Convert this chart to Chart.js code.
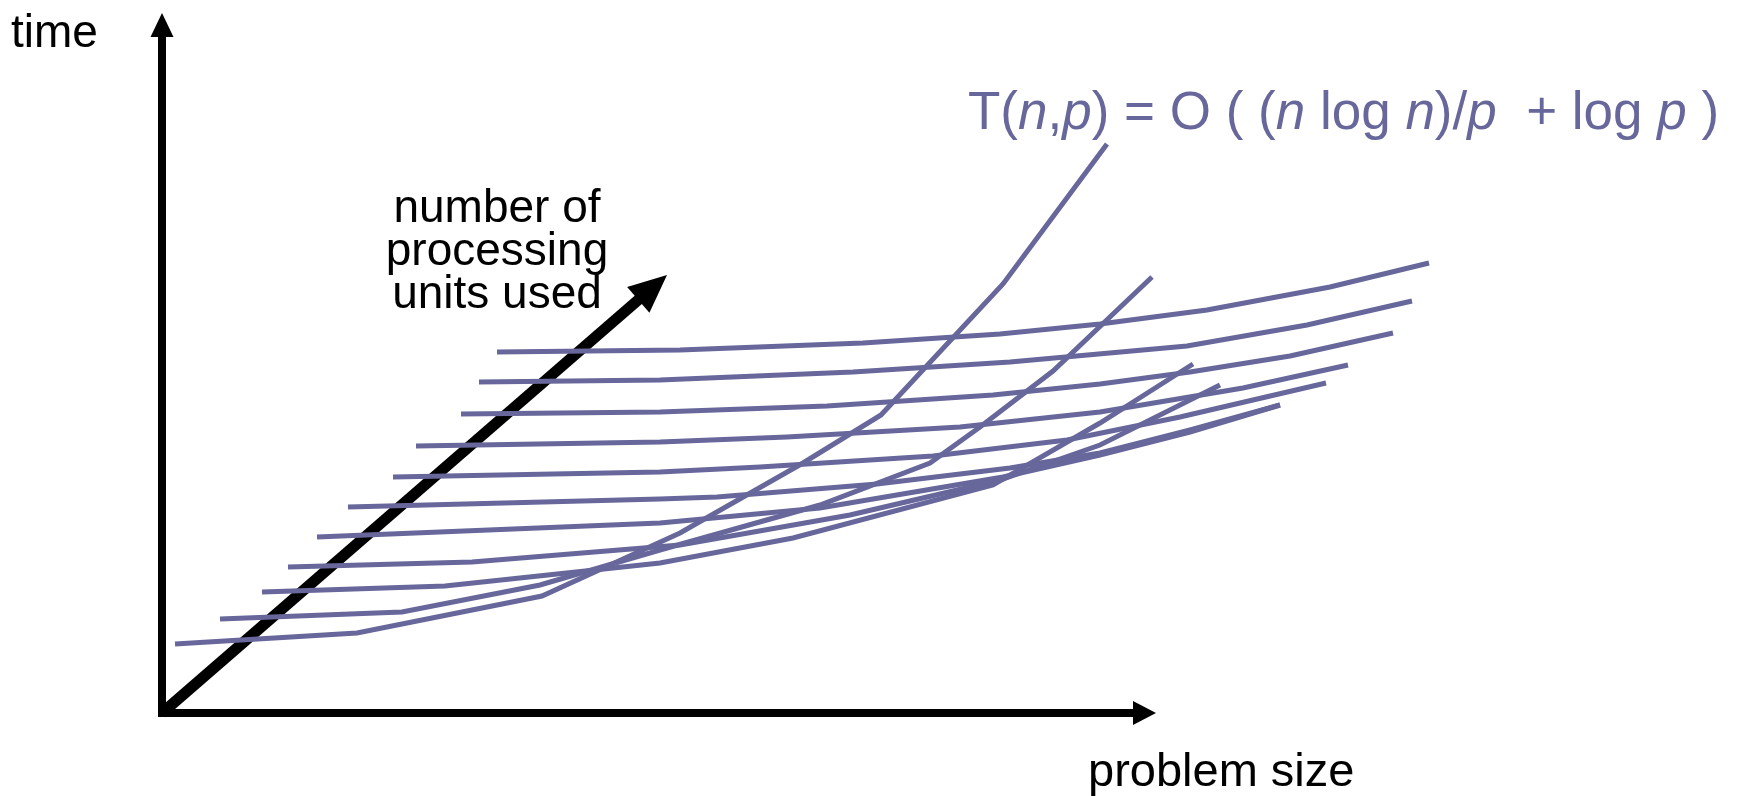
<!DOCTYPE html>
<html>
<head>
<meta charset="utf-8">
<title>Time vs problem size</title>
<script src="https://cdn.jsdelivr.net/npm/chart.js@4.4.1/dist/chart.umd.min.js"></script>
<style>
    html, body { margin: 0; padding: 0; background: #ffffff; }
    #wrap { width: 1748px; height: 796px; position: relative; }
</style>
</head>
<body>
<div id="wrap"><canvas id="chart"></canvas></div>
<script>
// Curves of time against problem size, one per number of processing units.
// x = problem size, y = time, both measured from the corner of the axes.
const curveP11 = [[13, 69], [195, 80], [380, 117], [518, 180], [641, 250], [719, 298], [841, 429], [945, 569]];
const curveP10 = [[58, 94], [240, 101], [378, 128], [498, 163], [658, 208], [768, 250], [818, 286], [891, 342], [990, 436]];
const curveP9 = [[100, 121], [283, 127], [498, 150], [631, 175], [831, 228], [938, 290], [1031, 349]];
const curveP8 = [[126, 146], [310, 151], [518, 168], [688, 198], [838, 233], [938, 268], [1058, 328]];
const curveP7 = [[155, 176], [498, 190], [658, 205], [841, 236], [938, 258], [1028, 281], [1118, 308]];
const curveP6 = [[186, 206], [498, 214], [555, 216], [715, 229], [848, 245], [938, 260], [1028, 283], [1118, 308]];
const curveP5 = [[231, 236], [498, 241], [598, 246], [771, 257], [905, 273], [1018, 296], [1164, 330]];
const curveP4 = [[254, 267], [498, 271], [625, 276], [798, 286], [938, 301], [1081, 325], [1186, 348]];
const curveP3 = [[299, 299], [498, 301], [665, 307], [831, 318], [938, 329], [1028, 341], [1128, 357], [1231, 380]];
const curveP2 = [[317, 331], [498, 333], [691, 341], [848, 351], [1025, 367], [1145, 388], [1250, 412]];
const curveP1 = [[335, 361], [518, 363], [701, 370], [838, 379], [938, 389], [1045, 403], [1168, 426], [1267, 450]];

const curves = [curveP11, curveP10, curveP9, curveP8, curveP7, curveP6, curveP5, curveP4, curveP3, curveP2, curveP1];

// axis ends and the direction of the "number of processing units" arrow
const timeAxisEnd = 700;
const sizeAxisEnd = 994;
const unitsArrowEnd = [505, 438];

const lineColor = '#67679b';

// formula pieces: [text, italic]
const formulaParts = [
    ['T(', false], ['n', true], [',', false], ['p', true], [') = O ( (', false],
    ['n', true], [' log ', false], ['n', true], [')/', false], ['p', true],
    ['  + log ', false], ['p', true], [' )', false]
];
const unitsLabel = ['number of', 'processing', 'units used'];

function arrowHead(ctx, tipX, tipY, dx, dy, len, half) {
    const d = Math.hypot(dx, dy);
    const ux = dx / d, uy = dy / d;
    const bx = tipX - ux * len, by = tipY - uy * len;
    ctx.beginPath();
    ctx.moveTo(tipX, tipY);
    ctx.lineTo(bx - uy * half, by + ux * half);
    ctx.lineTo(bx + uy * half, by - ux * half);
    ctx.closePath();
    ctx.fill();
}

// Black axes and the diagonal arrow, drawn under the curves
const axesPlugin = {
    id: 'axesPlugin',
    beforeDatasetsDraw(chart) {
        const ctx = chart.ctx;
        const xs = chart.scales.x, ys = chart.scales.y;
        const ox = xs.getPixelForValue(0), oy = ys.getPixelForValue(0);
        const topY = ys.getPixelForValue(timeAxisEnd);
        const rightX = xs.getPixelForValue(sizeAxisEnd);
        ctx.save();
        ctx.fillStyle = '#000';
        ctx.strokeStyle = '#000';
        ctx.lineCap = 'butt';

        // time axis
        ctx.lineWidth = 8;
        ctx.beginPath();
        ctx.moveTo(ox, oy + 4);
        ctx.lineTo(ox, topY + 20);
        ctx.stroke();
        arrowHead(ctx, ox, topY, 0, -1, 24, 11.5);

        // problem size axis
        ctx.beginPath();
        ctx.moveTo(ox - 4, oy);
        ctx.lineTo(rightX - 20, oy);
        ctx.stroke();
        arrowHead(ctx, rightX, oy, 1, 0, 23, 12);

        // number of processing units arrow
        const ax = xs.getPixelForValue(unitsArrowEnd[0]);
        const ay = ys.getPixelForValue(unitsArrowEnd[1]);
        const dx = ax - ox, dy = ay - oy;
        const d = Math.hypot(dx, dy);
        ctx.lineWidth = 11;
        ctx.beginPath();
        ctx.moveTo(ox, oy);
        ctx.lineTo(ax - dx / d * 30, ay - dy / d * 30);
        ctx.stroke();
        arrowHead(ctx, ax, ay, dx, dy, 38, 17);
        ctx.restore();
    }
};

// Text labels
const labelsPlugin = {
    id: 'labelsPlugin',
    afterDraw(chart) {
        const ctx = chart.ctx;
        ctx.save();
        ctx.fillStyle = '#000';
        ctx.textBaseline = 'alphabetic';
        ctx.font = '46px "Liberation Sans", Arial, sans-serif';

        ctx.textAlign = 'left';
        ctx.fillText('time', 11, 47);
        ctx.font = '47px "Liberation Sans", Arial, sans-serif';
        ctx.fillText('problem size', 1088, 786);

        ctx.font = '46px "Liberation Sans", Arial, sans-serif';
        ctx.textAlign = 'center';
        unitsLabel.forEach((t, i) => ctx.fillText(t, 497, 222 + i * 43));

        // formula
        ctx.textAlign = 'left';
        ctx.fillStyle = lineColor;
        let x = 968;
        formulaParts.forEach(([t, it]) => {
            ctx.font = (it ? 'italic ' : '') + '53px "Liberation Sans", Arial, sans-serif';
            ctx.fillText(t, x, 129);
            x += ctx.measureText(t).width;
        });
        ctx.restore();
    }
};

const ctx = document.getElementById('chart').getContext('2d');
new Chart(ctx, {
    type: 'scatter',
    data: {
        datasets: curves.map(c => ({
            data: c.map(([x, y]) => ({ x: x, y: y })),
            showLine: true,
            borderColor: lineColor,
            borderWidth: 5,
            pointRadius: 0,
            fill: false,
            tension: 0
        }))
    },
    options: {
        responsive: true,
        maintainAspectRatio: false,
        animation: false,
        events: [],
        layout: { padding: 0 },
        plugins: {
            legend: { display: false },
            tooltip: { enabled: false }
        },
        scales: {
            x: { type: 'linear', min: -162, max: 1586, display: false },
            y: { type: 'linear', min: -83, max: 713, display: false }
        }
    },
    plugins: [axesPlugin, labelsPlugin]
});
</script>
</body>
</html>
